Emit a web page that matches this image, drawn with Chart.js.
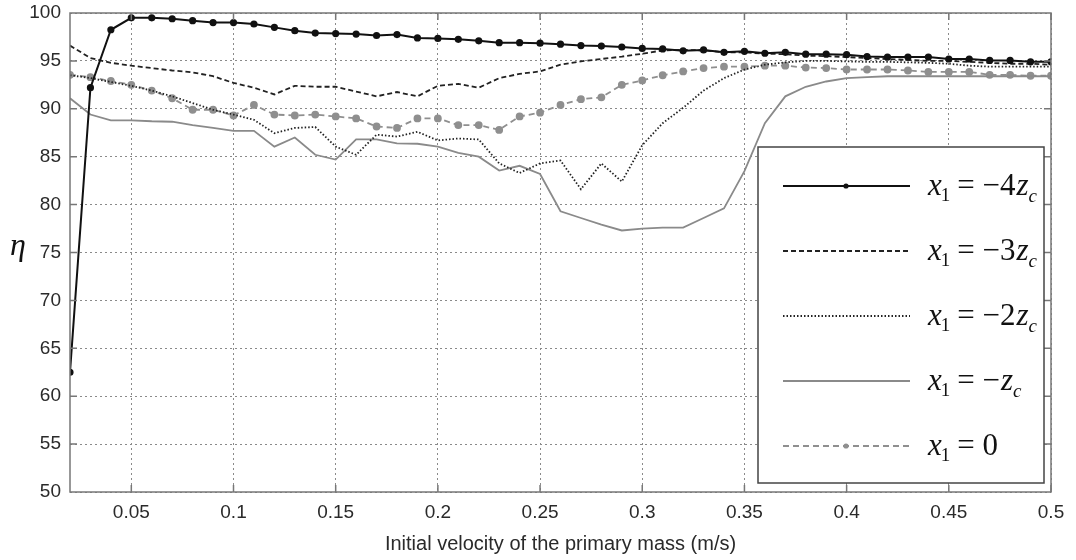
<!DOCTYPE html>
<html><head><meta charset="utf-8">
<script src="https://cdn.jsdelivr.net/npm/chart.js@4.4.0/dist/chart.umd.min.js"></script>
<style>html,body{margin:0;padding:0;background:#fff}#wrap{width:1076px;height:560px;position:relative}</style>
</head><body><div id="wrap"><canvas id="c"></canvas></div>
<script>
// ---- data ----
const xVel = [0.02,0.03,0.04,0.05,0.06,0.07,0.08,0.09,0.10,0.11,0.12,0.13,0.14,0.15,0.16,0.17,0.18,0.19,0.20,0.21,0.22,0.23,0.24,0.25,0.26,0.27,0.28,0.29,0.30,0.31,0.32,0.33,0.34,0.35,0.36,0.37,0.38,0.39,0.40,0.41,0.42,0.43,0.44,0.45,0.46,0.47,0.48,0.49,0.50];
const etaM4 = [62.5,92.2,98.25,99.5,99.5,99.4,99.2,99.0,99.0,98.85,98.5,98.15,97.9,97.85,97.8,97.65,97.75,97.4,97.35,97.25,97.1,96.9,96.9,96.85,96.75,96.6,96.55,96.45,96.3,96.25,96.05,96.15,95.9,96.0,95.8,95.9,95.7,95.7,95.65,95.45,95.4,95.4,95.4,95.2,95.2,95.05,95.05,94.9,94.9];
const etaM3 = [96.6,95.3,94.8,94.5,94.25,94.0,93.8,93.4,92.7,92.2,91.5,92.4,92.3,92.3,91.8,91.3,91.75,91.3,92.4,92.6,92.2,93.2,93.65,93.9,94.6,94.95,95.2,95.45,95.75,96.1,96.15,96.1,95.9,95.9,95.75,95.7,95.55,95.5,95.4,95.3,95.2,95.1,95.0,95.0,94.9,94.8,94.7,94.7,94.6];
const etaM2 = [93.5,93.2,92.8,92.4,91.9,91.3,90.6,89.9,89.4,88.85,87.45,88.0,88.1,86.05,85.2,87.3,87.1,87.6,86.7,86.9,86.8,84.3,83.3,84.3,84.6,81.6,84.3,82.4,86.2,88.5,90.1,91.9,93.2,94.1,94.6,94.85,95.0,95.0,94.95,94.9,94.9,94.85,94.8,94.7,94.5,94.4,94.4,94.4,94.4];
const etaM1 = [91.1,89.4,88.8,88.8,88.7,88.65,88.3,88.0,87.7,87.7,86.05,87.0,85.2,84.7,86.8,86.8,86.4,86.35,86.05,85.4,85.0,83.55,84.05,83.2,79.3,78.6,77.9,77.3,77.5,77.6,77.6,78.6,79.6,83.5,88.5,91.3,92.3,92.85,93.2,93.3,93.4,93.4,93.4,93.4,93.4,93.4,93.4,93.4,93.4];
const eta0  = [93.55,93.3,92.9,92.5,91.9,91.1,89.9,89.9,89.3,90.4,89.4,89.3,89.4,89.2,89.0,88.15,88.0,89.0,89.0,88.3,88.3,87.8,89.2,89.6,90.4,91.0,91.2,92.5,92.96,93.5,93.9,94.25,94.4,94.4,94.5,94.5,94.3,94.25,94.1,94.1,94.1,94.0,93.85,93.85,93.85,93.55,93.55,93.45,93.45];
const xTickValues = [0.05,0.1,0.15,0.2,0.25,0.3,0.35,0.4,0.45,0.5];
const xTickLabels = ['0.05','0.1','0.15','0.2','0.25','0.3','0.35','0.4','0.45','0.5'];
const legendCoefs = ['\u22124','\u22123','\u22122','\u2212','0'];
const legendHasZ = [true,true,true,true,false];
const xTitle = 'Initial velocity of the primary mass (m/s)';
const yTitle = '\u03B7';

const mk = (arr) => xVel.map((x,i)=>({x:x,y:arr[i]}));
const series = [
  {label:'x1 = -4zc', data:mk(etaM4), borderColor:'#111', backgroundColor:'#111', borderWidth:2, borderDash:[], pointRadius:2.6},
  {label:'x1 = -3zc', data:mk(etaM3), borderColor:'#222', backgroundColor:'#222', borderWidth:1.8, borderDash:[5,3], pointRadius:0},
  {label:'x1 = -2zc', data:mk(etaM2), borderColor:'#222', backgroundColor:'#222', borderWidth:1.8, borderDash:[1.5,2], pointRadius:0},
  {label:'x1 = -zc', data:mk(etaM1), borderColor:'#8a8a8a', backgroundColor:'#8a8a8a', borderWidth:1.8, borderDash:[], pointRadius:0},
  {label:'x1 = 0', data:mk(eta0), borderColor:'#8f8f8f', backgroundColor:'#8f8f8f', borderWidth:1.8, borderDash:[6,4], pointRadius:3}
];

const decor = {
  id:'decor',
  afterDatasetsDraw(chart){
    const ctx = chart.ctx, a = chart.chartArea;
    const xs = chart.scales.x, ys = chart.scales.y;
    ctx.save();
    ctx.strokeStyle = '#777'; ctx.lineWidth = 1.5; ctx.setLineDash([]);
    ctx.strokeRect(a.left, a.top, a.right-a.left, a.bottom-a.top);
    ctx.beginPath();
    xTickValues.forEach(v=>{ const p = xs.getPixelForValue(v);
      ctx.moveTo(p,a.bottom); ctx.lineTo(p,a.bottom-7); ctx.moveTo(p,a.top); ctx.lineTo(p,a.top+7); });
    for(let v=55; v<100; v+=5){ const p = ys.getPixelForValue(v);
      ctx.moveTo(a.left,p); ctx.lineTo(a.left+7,p); ctx.moveTo(a.right,p); ctx.lineTo(a.right-7,p); }
    ctx.stroke();
    ctx.fillStyle = '#111';
    ctx.font = 'italic 32px "Liberation Serif"';
    ctx.textAlign = 'center'; ctx.textBaseline = 'middle';
    ctx.fillText(yTitle, 18, 247);
    const L = 758, T = 147, R = 1044, B = 483;
    ctx.fillStyle = '#fff'; ctx.fillRect(L,T,R-L,B-T);
    ctx.strokeStyle = '#444'; ctx.lineWidth = 1.5; ctx.strokeRect(L,T,R-L,B-T);
    series.forEach((s,i)=>{
      const ly = 186 + i*65;
      ctx.strokeStyle = s.borderColor; ctx.lineWidth = s.borderWidth; ctx.setLineDash(s.borderDash);
      ctx.beginPath(); ctx.moveTo(783, ly); ctx.lineTo(910, ly); ctx.stroke();
      ctx.setLineDash([]);
      if(s.pointRadius>0){ ctx.fillStyle = s.backgroundColor; ctx.beginPath(); ctx.arc(846, ly, 2.6, 0, Math.PI*2); ctx.fill(); }
      ctx.fillStyle = '#111'; ctx.textAlign = 'left'; ctx.textBaseline = 'alphabetic';
      let cx = 928; const by = ly + 9;
      ctx.font = 'italic 31px "Liberation Serif"'; ctx.fillText('x', cx, by); cx += ctx.measureText('x').width;
      ctx.font = '19px "Liberation Serif"'; ctx.fillText('1', cx-1, by+6); cx += ctx.measureText('1').width + 6;
      ctx.font = '31px "Liberation Serif"'; const t = '= ' + legendCoefs[i]; ctx.fillText(t, cx, by); cx += ctx.measureText(t).width + 1;
      if(legendHasZ[i]){
        ctx.font = 'italic 31px "Liberation Serif"'; ctx.fillText('z', cx, by); cx += ctx.measureText('z').width;
        ctx.font = 'italic 19px "Liberation Serif"'; ctx.fillText('c', cx, by+7);
      }
    });
    ctx.restore();
  }
};

new Chart(document.getElementById('c'), {
  type:'line',
  data:{datasets:series},
  options:{
    responsive:true, maintainAspectRatio:false, animation:false,
    layout:{padding:{left:0, top:13, right:25, bottom:4}},
    elements:{line:{tension:0, fill:false}, point:{borderWidth:0}},
    plugins:{legend:{display:false}, tooltip:{enabled:false}},
    scales:{
      x:{type:'linear', min:0.02, max:0.5,
        afterBuildTicks:(sc)=>{ sc.ticks = xTickValues.map(v=>({value:v})); },
        afterFit:(sc)=>{ sc.height = 64; sc.paddingLeft = 0; sc.paddingRight = 0; },
        ticks:{autoSkip:false, maxRotation:0, padding:9, color:'#2a2a2a', font:{family:'"Liberation Sans", Arial', size:19},
          callback:(v)=>{ const i = xTickValues.findIndex(t=>Math.abs(t-v)<1e-9); return i>=0 ? xTickLabels[i] : ''; }},
        grid:{color:'#8a8a8a', lineWidth:1, drawTicks:false},
        border:{display:false, dash:[2,3]},
        title:{display:true, text:xTitle, color:'#2a2a2a', font:{family:'"Liberation Sans", Arial', size:20}, padding:{top:3,bottom:0}}
      },
      y:{min:50, max:100,
        afterFit:(sc)=>{ sc.width = 70; sc.paddingTop = 0; sc.paddingBottom = 0; },
        ticks:{stepSize:5, padding:9, color:'#2a2a2a', font:{family:'"Liberation Sans", Arial', size:19}},
        grid:{color:'#8a8a8a', lineWidth:1, drawTicks:false},
        border:{display:false, dash:[2,3]}
      }
    }
  },
  plugins:[decor]
});
</script></body></html>
